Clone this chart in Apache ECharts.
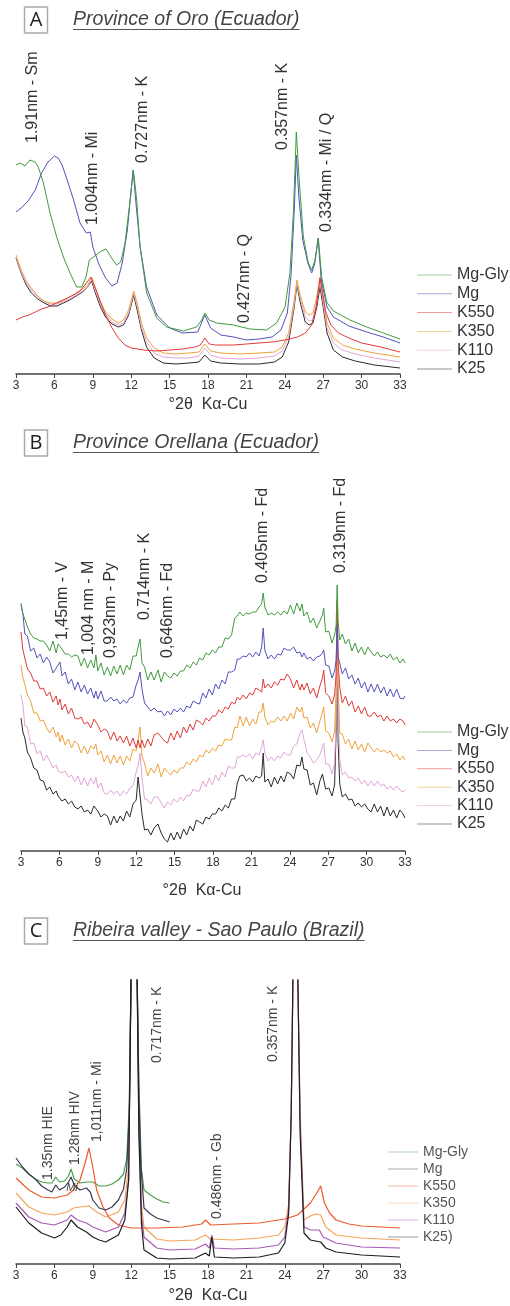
<!DOCTYPE html>
<html><head><meta charset="utf-8">
<script src="https://cdn.jsdelivr.net/npm/echarts@6/dist/echarts.min.js"></script>
<style>html,body{margin:0;padding:0;background:#fff}#c{width:510px;height:1306px}</style>
</head><body><div id="c"></div>
<script>
// ---------- names / ticks ----------
const namesAB = ['Mg-Gly','Mg','K550','K350','K110','K25'];
const namesC = ['Mg-Gly','Mg','K550','K350','K110','K25)'];
const xTicks = [3,6,9,12,15,18,21,24,27,30,33];
const axisTitle = '°2θ  Kα-Cu';
const panelTitles = [['A','Province of Oro (Ecuador)'],['B','Province Orellana (Ecuador)'],['C','Ribeira valley - Sao Paulo (Brazil)']];

// ---------- Panel A : [2theta, intensity] ----------
const aMgGly = [[3,209],[3.31,211],[3.7,208],[4.09,214],[4.48,212],[4.74,207],[5.14,191],[5.66,161],[6.18,137],[6.7,117],[7.22,101],[7.74,87],[8.13,87],[8.47,97],[8.73,114],[9.04,117],[9.56,122],[10.03,125],[10.47,116],[10.86,109],[11.18,112],[11.52,131],[11.85,167],[12.17,204],[12.43,174],[12.69,127],[13.21,81],[13.99,56],[14.77,47],[16.07,43],[17.11,47],[17.5,54],[17.76,61],[18.1,54],[18.68,51],[19.98,49],[21.28,45],[22.58,44],[23.36,51],[24.02,67],[24.4,101],[24.67,161],[24.9,242],[25.14,191],[25.45,137],[25.84,111],[26.1,104],[26.36,114],[26.62,136],[26.88,97],[27.27,72],[27.79,63],[29.09,54],[30.4,47],[31.7,41],[33,35]];
const aMg = [[3,162],[3.5,167],[4,174],[4.5,184],[5,201],[5.5,212],[6,218],[6.3,216],[6.6,209],[7,194],[7.5,174],[8,151],[8.5,141],[8.8,142],[9,127],[9.5,109],[10,96],[10.5,88],[10.9,91],[11.3,111],[11.7,144],[12,184],[12.15,204],[12.4,167],[12.7,127],[13.2,87],[14,59],[15,46],[16,41],[17.2,42],[17.75,59],[18.2,46],[19,39],[20,37],[21,34],[22,35],[23,37],[23.7,44],[24.2,61],[24.5,101],[24.75,167],[24.9,219],[25.1,177],[25.4,134],[25.8,111],[26.1,101],[26.35,111],[26.6,136],[26.85,94],[27.3,67],[27.8,57],[29,48],[30.4,42],[31.7,37],[33,31]];
const aK550 = [[3,54],[3.5,57],[4,59],[4.5,62],[5,65],[5.5,67],[6,70],[6.5,73],[7,76],[7.5,79],[8,83],[8.5,91],[8.85,97],[9.2,86],[9.6,72],[10,59],[10.5,46],[11,36],[11.5,29],[12,26],[13,24],[14,23],[15,24],[16,25],[17,27],[17.4,29],[17.75,36],[18.1,30],[18.6,29],[20,29],[21,30],[22,31],[23,32],[24,34],[25,37],[25.6,41],[26.1,49],[26.45,67],[26.75,96],[26.95,81],[27.2,62],[27.6,49],[28.2,41],[29,36],[30,31],[31.5,27],[33,22]];
const aK350 = [[3,119],[3.4,104],[3.8,93],[4.2,86],[4.7,78],[5.2,73],[5.7,71],[6.2,71],[6.7,73],[7.2,77],[7.7,81],[8.2,85],[8.6,89],[8.9,97],[9.2,86],[9.6,72],[10,62],[10.5,55],[11,51],[11.4,54],[11.8,64],[12.2,83],[12.5,69],[12.8,51],[13.2,36],[13.8,26],[14.5,21],[15.5,20],[16.5,21],[17.3,22],[17.75,30],[18.2,23],[19,21],[20.5,20],[22,21],[23.2,22],[23.8,27],[24.3,41],[24.7,71],[24.95,94],[25.2,79],[25.6,62],[25.9,59],[26.2,61],[26.5,77],[26.75,97],[27,77],[27.3,51],[27.8,36],[28.5,29],[29.5,25],[31,21],[33,17]];
const aK110 = [[3,117],[3.4,102],[3.8,91],[4.2,84],[4.7,77],[5.2,72],[5.7,70],[6.2,70],[6.7,72],[7.2,75],[7.7,79],[8.2,83],[8.6,87],[8.9,95],[9.2,83],[9.6,70],[10,60],[10.5,52],[11,49],[11.4,51],[11.8,61],[12.2,81],[12.5,66],[12.8,47],[13.2,32],[13.8,21],[14.5,17],[15.5,16],[16.5,16],[17.3,18],[17.75,26],[18.2,19],[19,16],[20.5,15],[22,16],[23.2,18],[23.8,23],[24.3,37],[24.7,67],[24.95,91],[25.2,76],[25.6,57],[25.9,53],[26.2,54],[26.5,72],[26.75,92],[27,72],[27.3,46],[27.8,31],[28.5,24],[29.5,20],[31,16],[33,12]];
const aK25 = [[3,116],[3.4,101],[3.8,89],[4.2,81],[4.7,75],[5.2,71],[5.7,68],[6.2,68],[6.7,71],[7.2,74],[7.7,78],[8.2,82],[8.6,87],[8.9,93],[9.2,81],[9.6,67],[10,57],[10.5,50],[11,47],[11.4,49],[11.8,59],[12.2,79],[12.5,62],[12.8,44],[13.2,27],[13.8,16],[14.5,11],[15.5,10],[16.5,11],[17.3,12],[17.75,19],[18.2,13],[19,11],[20.5,10],[22,10],[23.2,12],[23.8,17],[24.3,32],[24.7,64],[24.95,89],[25.2,72],[25.6,52],[25.9,49],[26.2,51],[26.5,67],[26.75,87],[27,67],[27.3,41],[27.8,24],[28.5,17],[29.5,13],[31,9],[33,6]];
const labelsA = [['1.91nm - Sm',4.33,231],['1.004nm - Mi',9.02,149],['0.727nm - K',12.92,211],['0.427nm - Q',20.89,51],['0.357nm - K',23.86,224],['0.334nm - Mi / Q',27.3,142]];

// ---------- Panel B : shared 2theta positions + intensities ----------
const xB = [
3,3.15,3.3,3.5,3.75,4,4.25,4.5,4.75,5,
5.25,5.5,5.75,5.9,6.05,6.2,6.45,6.7,6.95,7.2,
7.45,7.7,7.95,8.2,8.45,8.7,8.85,9.0,9.25,9.5,
9.75,10,10.25,10.5,10.75,11,11.25,11.5,11.75,12.0,
12.15,12.3,12.45,12.65,12.9,13.15,13.4,13.7,13.95,14.2,
14.45,14.7,14.95,15.2,15.45,15.7,15.95,16.2,16.45,16.7,
16.95,17.2,17.45,17.7,17.95,18.2,18.45,18.7,18.95,19.2,
19.45,19.7,19.9,20.1,20.35,20.6,20.85,21.1,21.35,21.6,
21.8,21.92,22.05,22.3,22.55,22.8,23.05,23.3,23.55,23.8,
24.05,24.3,24.55,24.8,24.95,25.1,25.35,25.6,25.85,26.1,
26.35,26.55,26.65,26.8,27.05,27.3,27.5,27.62,27.7,27.78,
27.9,28.1,28.35,28.6,28.85,29.1,29.35,29.6,29.85,30.1,
30.35,30.6,30.85,31.1,31.35,31.6,31.85,32.1,32.35,32.6,
32.85,33];
const bMgGly = [
248,237,232,224,217,213,212,210,210,206,
200,210,198,207,209,202,197,197,194,196,
195,185,193,183,191,183,196,180,188,176,
184,175,185,177,186,176,186,181,195,195,
204,212,188,184,171,179,171,181,169,179,
175,173,178,175,180,180,186,183,189,186,
193,191,198,196,201,198,204,204,213,212,
216,233,235,239,235,238,237,239,239,244,
247,258,244,236,238,236,239,236,240,237,
246,237,248,240,247,235,239,228,233,223,
230,236,243,219,220,208,216,226,266,229,
211,217,207,212,200,208,198,204,196,204,
199,195,199,194,196,193,197,191,194,188,
192,188];
const bMg = [
246,237,217,215,200,203,193,197,188,194,
189,178,183,181,189,175,179,167,172,161,
169,159,166,157,163,153,160,152,160,150,
150,154,150,152,147,151,148,153,154,166,
171,179,162,148,144,140,143,139,140,135,
140,136,142,139,143,139,145,143,150,148,
147,158,153,162,156,167,162,171,167,179,
179,181,192,192,195,194,198,194,199,195,
204,223,201,192,196,192,197,196,203,201,
201,204,198,199,194,198,192,194,190,194,
195,198,201,186,185,173,180,191,226,194,
188,177,183,172,176,167,173,163,169,159,
167,159,167,158,164,155,162,154,162,153,
152,155];
const bK550 = [
219,201,193,182,178,170,170,162,163,155,
159,149,155,146,152,141,147,137,143,133,
132,134,127,129,123,132,132,126,119,122,
120,111,119,110,115,108,115,105,113,103,
111,103,111,103,112,105,116,118,114,110,
108,118,111,120,113,124,118,127,121,131,
129,126,133,130,135,135,141,138,144,142,
149,147,154,151,156,152,158,156,163,161,
159,172,163,167,163,169,166,172,171,177,
172,163,171,161,167,161,168,157,163,153,
165,173,181,158,155,147,156,176,251,189,
164,148,155,145,150,139,145,137,144,135,
135,139,134,136,130,135,130,132,128,132,
130,126];
const bK350 = [
186,173,167,156,150,138,138,130,131,123,
118,124,114,119,109,116,106,112,103,110,
107,98,105,97,105,102,107,96,100,89,
96,87,96,88,95,86,95,90,102,100,
111,124,95,88,75,83,78,87,74,83,
79,76,81,78,83,83,89,86,92,89,
96,94,101,98,103,100,106,105,112,111,
111,124,123,135,125,134,125,132,127,139,
139,148,134,126,130,129,134,130,135,130,
138,132,144,139,144,133,134,123,128,118,
130,139,144,120,118,109,120,160,241,168,
118,117,107,112,102,110,101,107,99,108,
103,99,103,99,101,98,100,94,97,91,
95,91];
const bK110 = [
156,147,125,124,107,108,97,100,90,96,
90,83,86,80,82,78,80,74,76,69,
75,66,73,65,73,67,74,63,68,58,
57,61,57,60,55,60,57,63,65,79,
85,98,74,52,51,47,54,54,48,43,
49,46,52,49,54,50,56,55,62,60,
60,70,64,73,66,76,70,79,74,85,
83,83,94,94,96,94,97,92,98,96,
104,111,98,90,94,90,95,93,99,96,
96,105,107,118,121,112,98,94,88,91,
96,104,108,87,87,77,88,130,211,138,
91,76,79,73,74,70,73,67,71,65,
70,65,70,65,67,62,65,61,65,61,
59,61];
const bK25 = [
133,119,113,99,93,83,81,71,70,61,
64,57,60,55,57,50,52,47,50,44,
42,45,39,41,37,45,45,40,34,37,
35,26,35,28,35,30,40,34,47,51,
74,72,37,21,22,16,23,27,18,12,
9,18,11,19,12,22,16,25,20,31,
29,27,34,32,37,37,43,40,46,43,
52,52,68,75,76,70,73,69,75,73,
75,98,69,72,64,74,67,75,69,79,
77,72,86,85,94,82,81,66,68,56,
70,77,79,62,63,55,66,120,191,108,
67,54,57,51,52,45,48,44,47,42,
39,47,39,45,35,44,35,41,33,41,
37,33];
const labelsB = [['1,45nm - V',6.22,211],['1,004 nm - M',8.25,196],['0,923nm - Py',9.97,193],['0.714nm - K',12.63,231],['0,646nm - Fd',14.43,193],['0.405nm - Fd',21.84,268],['0.319nm - Fd',27.93,278]];

// ---------- Panel C : [2theta, intensity] ----------
const cMgGly = [[3,100],[3.5,96],[4,90],[4.5,85],[5,82],[5.5,81],[5.8,81],[6.1,87],[6.4,82],[6.8,83],[7.1,88],[7.3,95],[7.55,85],[8,81],[8.5,82],[9,82],[9.5,78],[10,78],[10.5,80],[11,84],[11.4,90],[11.65,105],[11.85,160],[12.0,300],[12.2,420],[12.45,300],[12.6,180],[12.8,95],[13,74],[13.5,69],[14,65],[14.5,62],[15,61]];
const cMg = [[3,106],[3.5,97],[4,90],[4.5,85],[5,78],[5.5,74],[5.8,72],[6.1,79],[6.4,74],[6.8,77],[7.1,82],[7.3,87],[7.55,79],[8,74],[8.5,76],[8.8,72],[9,64],[9.5,56],[10,54],[10.5,57],[11,64],[11.4,75],[11.65,95],[11.85,150],[12.0,300],[12.2,420],[12.45,300],[12.6,170],[12.75,100],[13,56],[13.5,50],[14,46],[14.5,44],[15,42]];
const cK550 = [[3,86],[4,74],[5,67],[6,66],[7,69],[7.5,74],[8,84],[8.4,101],[8.7,116],[9.0,97],[9.3,74],[9.8,57],[10.3,46],[11,39],[12,36],[14,36],[16,37],[17.5,40],[17.8,44],[18.2,39],[20,40],[22,41],[24,45],[25,49],[26,61],[26.5,71],[26.8,78],[27.1,61],[27.5,51],[28,44],[29,40],[30,38],[33,36]];
const cK350 = [[3,71],[4,57],[5,51],[6,49],[7,52],[7.5,56],[8,57],[8.7,58],[9.3,52],[10,47],[11,52],[11.5,64],[11.8,97],[12.0,300],[12.2,420],[12.45,300],[12.6,150],[12.8,60],[13,37],[14,25],[15,23],[17,24],[17.8,29],[18.2,25],[20,24],[22,26],[23.5,29],[24,37],[24.3,60],[24.5,150],[24.65,300],[24.85,420],[25.0,300],[25.2,150],[25.5,44],[26,48],[26.4,50],[26.8,49],[27.2,37],[28,29],[30,26],[33,24]];
const cK110 = [[3,61],[4,47],[5,41],[6,39],[7,44],[7.3,49],[7.8,44],[8.5,41],[9,37],[10,32],[11,37],[11.5,51],[11.8,84],[12.0,300],[12.2,420],[12.45,300],[12.6,140],[12.8,50],[13,27],[14,16],[15,14],[17,15],[17.8,20],[18.1,16],[18.3,29],[18.5,16],[20,15],[22,16],[23.5,19],[24,27],[24.3,55],[24.5,150],[24.65,300],[24.85,420],[25.0,300],[25.2,140],[25.5,37],[26,34],[26.7,34],[27,27],[28,21],[30,17],[33,16]];
const cK25 = [[3,57],[4,41],[5,31],[6,26],[6.5,29],[7,37],[7.3,44],[7.8,37],[8.5,32],[9,27],[9.5,24],[10,22],[11,29],[11.5,44],[11.8,84],[12.0,300],[12.2,420],[12.45,300],[12.6,130],[12.8,40],[13,14],[14,6],[15,5],[17,6],[17.8,11],[18.1,8],[18.3,27],[18.5,7],[20,6],[22,7],[23.5,11],[24,21],[24.3,50],[24.5,150],[24.65,300],[24.85,420],[25.0,300],[25.2,130],[25.5,31],[26,24],[26.8,22],[27.2,16],[28,12],[30,9],[33,7]];
const labelsC = [['1.35nm HIE',5.5,84],['1.28nm HIV',7.61,99],['1,011nm - Mi',9.33,122],['0.717nm - K',14.02,201],['0.357nm - K',23.08,202],['0.486nm - Gb',18.7,45]];
const flatLabelsC = [['Mi',7.375,76]];

// ---------- build ----------
const FF = '"Liberation Sans", Arial, Helvetica, sans-serif';
const colAB = ['#3f9b3f','#5252bc','#e03a3a','#efa23a','#e2a6d8','#2a2a2a'];
const colC  = ['#4a9e4a','#3a3a58','#ec5a2c','#f5a55a','#a65ab5','#1e1e1e'];
const dataA = [aMgGly,aMg,aK550,aK350,aK110,aK25];
const dataB = [bMgGly,bMg,bK550,bK350,bK110,bK25].map(ys => xB.map((x,i)=>[x,ys[i]]));
const dataC = [cMgGly,cMg,cK550,cK350,cK110,cK25];

function hexA(h,a){const n=parseInt(h.slice(1),16);return `rgba(${n>>16},${(n>>8)&255},${n&255},${a})`;}

const series = [];
function addPanel(gi, names, datas, cols, width, zOrder){
  zOrder.forEach((i, k) => {
    series.push({type:'line', name:names[i], data:datas[i], xAxisIndex:gi, yAxisIndex:gi,
      symbol:'none', showSymbol:false, clip:true, animation:false, silent:true,
      lineStyle:{color:cols[i], width:width}, itemStyle:{color:cols[i]}, z:2+k});
  });
}
addPanel(0, namesAB, dataA, colAB, 1, [5,4,3,2,1,0]);
addPanel(1, namesAB, dataB, colAB, 1, [5,4,3,2,1,0]);
addPanel(2, namesC, dataC, colC, 1.2, [0,3,2,4,1,5]);

function xAx(gi, gap, pad){
  return {type:'value', gridIndex:gi, min:3, max:33, interval:3,
    name:axisTitle, nameLocation:'middle', nameGap:gap,
    nameTextStyle:{fontSize:16, color:'#333', fontFamily:FF, padding:pad},
    axisLine:{show:true, onZero:false, lineStyle:{color:'#444', width:1.5}},
    axisTick:{show:true, inside:false, length:4, lineStyle:{color:'#444', width:1}},
    axisLabel:{fontSize:12, color:'#333', margin:6, fontFamily:FF, showMinLabel:true, showMaxLabel:true,
      formatter:v => xTicks.includes(v) ? String(v) : ''},
    splitLine:{show:false}};
}
function yAx(gi, max){ return {type:'value', gridIndex:gi, min:0, max:max, show:false}; }

function legend(names, cols, left, top, fs, gap, w, tcol){
  return {orient:'vertical', left:left, top:top, padding:0, itemWidth:w, itemHeight:10, itemGap:gap, selectedMode:false,
    textStyle:{fontSize:fs, color:tcol, fontFamily:FF},
    data:names.map((n,i)=>({name:n, icon:'path://M0,5 L35,5 L35,6 L0,6 Z', itemStyle:{color:hexA(cols[i],0.5)}}))};
}

const option = {
  backgroundColor:'#fff',
  animation:false,
  grid:[
    {left:16, right:110, top:44, bottom:932},
    {left:21, right:105, top:500, bottom:455},
    {left:16, right:110, top:980, bottom:42}
  ],
  xAxis:[xAx(0,23,[0,0,0,0]), xAx(1,32,[0,22,0,0]), xAx(2,24,[0,0,0,0])],
  yAxis:[yAx(0,330), yAx(1,351), yAx(2,284)],
  legend:[
    legend(namesAB, colAB, 417, 267, 16, 2.8, 35, '#333'),
    legend(namesAB, colAB, 417, 724, 16, 2.4, 35, '#333'),
    legend(namesC, colC, 388, 1145, 14, 3, 30, '#555')
  ],
  series:series
};

const chart = echarts.init(document.getElementById('c'), null, {renderer:'canvas'});
chart.setOption(option);

// ---------- annotations ----------
const G = [];
function vLabels(list, gi, fs, col){
  list.forEach(([t,x,y])=>{
    const p = chart.convertToPixel({gridIndex:gi}, [x,y]);
    G.push({type:'text', x:p[0], y:p[1], rotation:Math.PI/2, z:100,
      style:{text:t, fill:col, fontSize:fs, fontFamily:FF, align:'left', verticalAlign:'middle', textAlign:'left', textVerticalAlign:'middle'}});
  });
}
vLabels(labelsA, 0, 16, '#333');
vLabels(labelsB, 1, 16, '#333');
vLabels(labelsC, 2, 14, '#444');
flatLabelsC.forEach(([t,x,y])=>{
  const p = chart.convertToPixel({gridIndex:2}, [x,y]);
  G.push({type:'text', x:p[0], y:p[1], z:100,
    style:{text:t, fill:'#444', fontSize:11, fontFamily:FF, fontStyle:'italic', align:'center', verticalAlign:'middle', textAlign:'center', textVerticalAlign:'middle'}});
});

const ctx = document.createElement('canvas').getContext('2d');
ctx.font = 'italic 19.5px "Liberation Sans", Arial, sans-serif';
const titleY = [20, 443, 931];
const boxY = [7, 430, 918];
panelTitles.forEach(([letter, txt], i)=>{
  G.push({type:'rect', shape:{x:24.5, y:boxY[i], width:23, height:26}, style:{fill:'none', stroke:'#aaa', lineWidth:1.5}, z:100});
  G.push({type:'text', x:36, y:boxY[i]+13, z:100, style:{text:letter, fill:'#222', fontSize:20, fontFamily:'"Open Sans", sans-serif', align:'center', verticalAlign:'middle', textAlign:'center', textVerticalAlign:'middle'}});
  G.push({type:'text', x:73, y:titleY[i], z:100, style:{text:txt, fill:'#444', fontSize:19.5, fontStyle:'italic', fontFamily:FF, align:'left', verticalAlign:'middle', textAlign:'left', textVerticalAlign:'middle'}});
  const w = ctx.measureText(txt).width;
  G.push({type:'line', shape:{x1:73, y1:titleY[i]+9.5, x2:73+w, y2:titleY[i]+9.5}, style:{stroke:'#555', lineWidth:1}, z:100});
});
chart.setOption({graphic:G});
</script>
</body></html>
